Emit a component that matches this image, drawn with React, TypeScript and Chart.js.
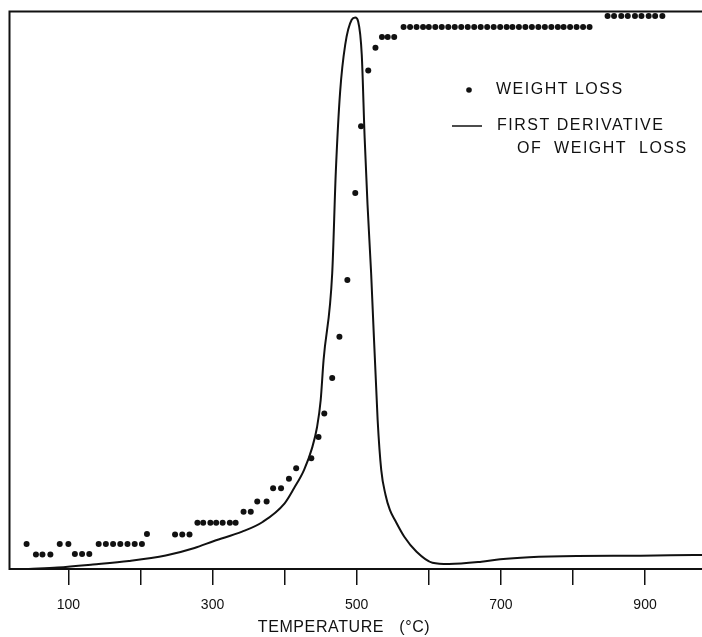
import React, { useEffect, useRef } from "react";
import { Chart, registerables } from "chart.js";

Chart.register(...registerables);

// Weight loss points (temperature °C, relative weight loss on a 0-100 scale)
const weightLossTemp = [
  42, 55, 64, 75, 88, 100, 109, 119, 129, 142, 152, 162, 172, 182, 192, 202,
  209, 248, 258, 268, 279, 287, 297, 305, 314, 324, 332, 343, 353, 362, 375,
  384, 395, 406, 416, 437, 447, 455, 466, 476, 487, 498, 506, 516, 526, 535,
  543, 552,
  565, 574, 583, 592, 600, 609, 618, 627, 636, 645, 654, 663, 672, 681, 690,
  699, 708, 716, 725, 734, 743, 752, 761, 770, 779, 787, 796, 805, 814, 823,
  848, 857, 867, 876, 886, 895, 905, 914, 924,
];
const weightLossValue = [
  4.5, 2.6, 2.6, 2.6, 4.5, 4.5, 2.7, 2.7, 2.7, 4.5, 4.5, 4.5, 4.5, 4.5, 4.5, 4.5,
  6.3, 6.2, 6.2, 6.2, 8.3, 8.3, 8.3, 8.3, 8.3, 8.3, 8.3, 10.3, 10.3, 12.1, 12.1,
  14.5, 14.5, 16.2, 18.1, 19.9, 23.7, 27.9, 34.3, 41.7, 51.9, 67.5, 79.5, 89.5, 93.6, 95.5,
  95.5, 95.5,
  97.3, 97.3, 97.3, 97.3, 97.3, 97.3, 97.3, 97.3, 97.3, 97.3, 97.3, 97.3, 97.3, 97.3, 97.3,
  97.3, 97.3, 97.3, 97.3, 97.3, 97.3, 97.3, 97.3, 97.3, 97.3, 97.3, 97.3, 97.3, 97.3, 97.3,
  99.3, 99.3, 99.3, 99.3, 99.3, 99.3, 99.3, 99.3, 99.3,
];

// First derivative of weight loss (temperature °C, relative value 0-100)
const derivTemp = [
  45, 85, 134, 184, 235, 275, 302, 341, 370, 400, 413, 427, 438, 445, 450, 454,
  466, 471, 477, 484, 493, 498, 502, 507, 511, 515, 520, 529, 534, 540, 546,
  553, 566, 583, 605, 628, 673, 699, 739, 805, 894, 968, 979,
];
const derivValue = [
  0, 0.27, 0.81, 1.44, 2.42, 3.77, 5.03, 6.7, 8.49, 11.8, 14.5, 17.8, 21.7, 25.5, 30.3, 37.5,
  53.1, 71.3, 85.7, 94.1, 98.6, 99.0, 98.3, 92.3, 77.4, 65.4, 53.1, 26.8, 17.8, 13.3, 10.6,
  8.8, 5.8, 3.1, 1.13, 0.9, 1.31, 1.74, 2.1, 2.33, 2.39, 2.51, 2.52,
];

const tickValues = [100, 200, 300, 400, 500, 600, 700, 800, 900];
const labeledTicks = [100, 300, 500, 700, 900];

const xTitle = "TEMPERATURE   (°C)";
const legendDot = "WEIGHT LOSS";
const legendLine1 = "FIRST DERIVATIVE";
const legendLine2 = "OF  WEIGHT  LOSS";

const FONT = '"Liberation Sans", Arial, sans-serif';
const INK = "#111";

const decorPlugin = {
  id: "decor",
  afterDraw(chart: any) {
    const ctx = chart.ctx;
    const area = chart.chartArea;
    ctx.save();
    ctx.strokeStyle = INK;
    ctx.fillStyle = INK;
    // frame: left and top borders
    ctx.lineWidth = 2;
    ctx.beginPath();
    ctx.moveTo(area.left - 0.5, area.bottom + 1);
    ctx.lineTo(area.left - 0.5, area.top - 0.5);
    ctx.lineTo(chart.width, area.top - 0.5);
    ctx.stroke();

    // legend
    ctx.font = `16px ${FONT}`;
    ctx.textBaseline = "middle";
    ctx.textAlign = "left";
    (ctx as any).letterSpacing = "1.5px";
    ctx.beginPath();
    ctx.arc(469, 90, 2.8, 0, Math.PI * 2);
    ctx.fill();
    ctx.fillText(legendDot, 496, 90);
    ctx.lineWidth = 1.5;
    ctx.beginPath();
    ctx.moveTo(452, 126);
    ctx.lineTo(482, 126);
    ctx.stroke();
    ctx.fillText(legendLine1, 497, 126);
    ctx.fillText(legendLine2, 517, 149);

    // axis title
    (ctx as any).letterSpacing = "0.6px";
    ctx.textAlign = "center";
    ctx.fillText(xTitle, 344, 628);
    ctx.restore();
  },
};

export default function App() {
  const ref = useRef<HTMLCanvasElement | null>(null);

  useEffect(() => {
    if (!ref.current) return;
    const chart = new Chart(ref.current, {
      type: "scatter",
      data: {
        datasets: [
          {
            label: "WEIGHT LOSS",
            data: weightLossTemp.map((t, i) => ({ x: t, y: weightLossValue[i] })),
            showLine: false,
            pointRadius: 3,
            pointBackgroundColor: INK,
            pointBorderWidth: 0,
            clip: false,
            order: 0,
          },
          {
            label: "FIRST DERIVATIVE OF WEIGHT LOSS",
            data: derivTemp.map((t, i) => ({ x: t, y: derivValue[i] })),
            showLine: true,
            borderColor: INK,
            borderWidth: 2,
            pointRadius: 0,
            cubicInterpolationMode: "monotone",
            clip: false,
            order: 1,
          },
        ],
      },
      options: {
        animation: false,
        responsive: false,
        maintainAspectRatio: false,
        layout: { autoPadding: false, padding: { left: 10, top: 12, right: 0, bottom: 0 } },
        plugins: { legend: { display: false }, tooltip: { enabled: false } },
        scales: {
          y: { display: false, min: 0, max: 100 },
          x: {
            type: "linear",
            min: 19,
            max: 979,
            afterBuildTicks: (axis: any) => {
              axis.ticks = tickValues.map((v) => ({ value: v }));
            },
            afterFit: (axis: any) => {
              axis.height = 68;
              axis.paddingLeft = 0;
              axis.paddingRight = 0;
            },
            grid: {
              display: true,
              drawOnChartArea: false,
              drawTicks: true,
              tickLength: 16,
              color: INK,
              lineWidth: 1.5,
            },
            border: { display: true, color: INK, width: 2 },
            ticks: {
              autoSkip: false,
              maxRotation: 0,
              padding: 12,
              color: INK,
              font: { family: FONT, size: 14 },
              callback: (v: any) => (labeledTicks.includes(Number(v)) ? String(v) : ""),
            },
          },
        },
      },
      plugins: [decorPlugin],
    });
    return () => chart.destroy();
  }, []);

  return (
    <div style={{ position: "fixed", left: 0, top: 0, width: 702, height: 637, background: "#fff" }}>
      <canvas ref={ref} width={702} height={637} style={{ width: 702, height: 637, display: "block" }} />
    </div>
  );
}
